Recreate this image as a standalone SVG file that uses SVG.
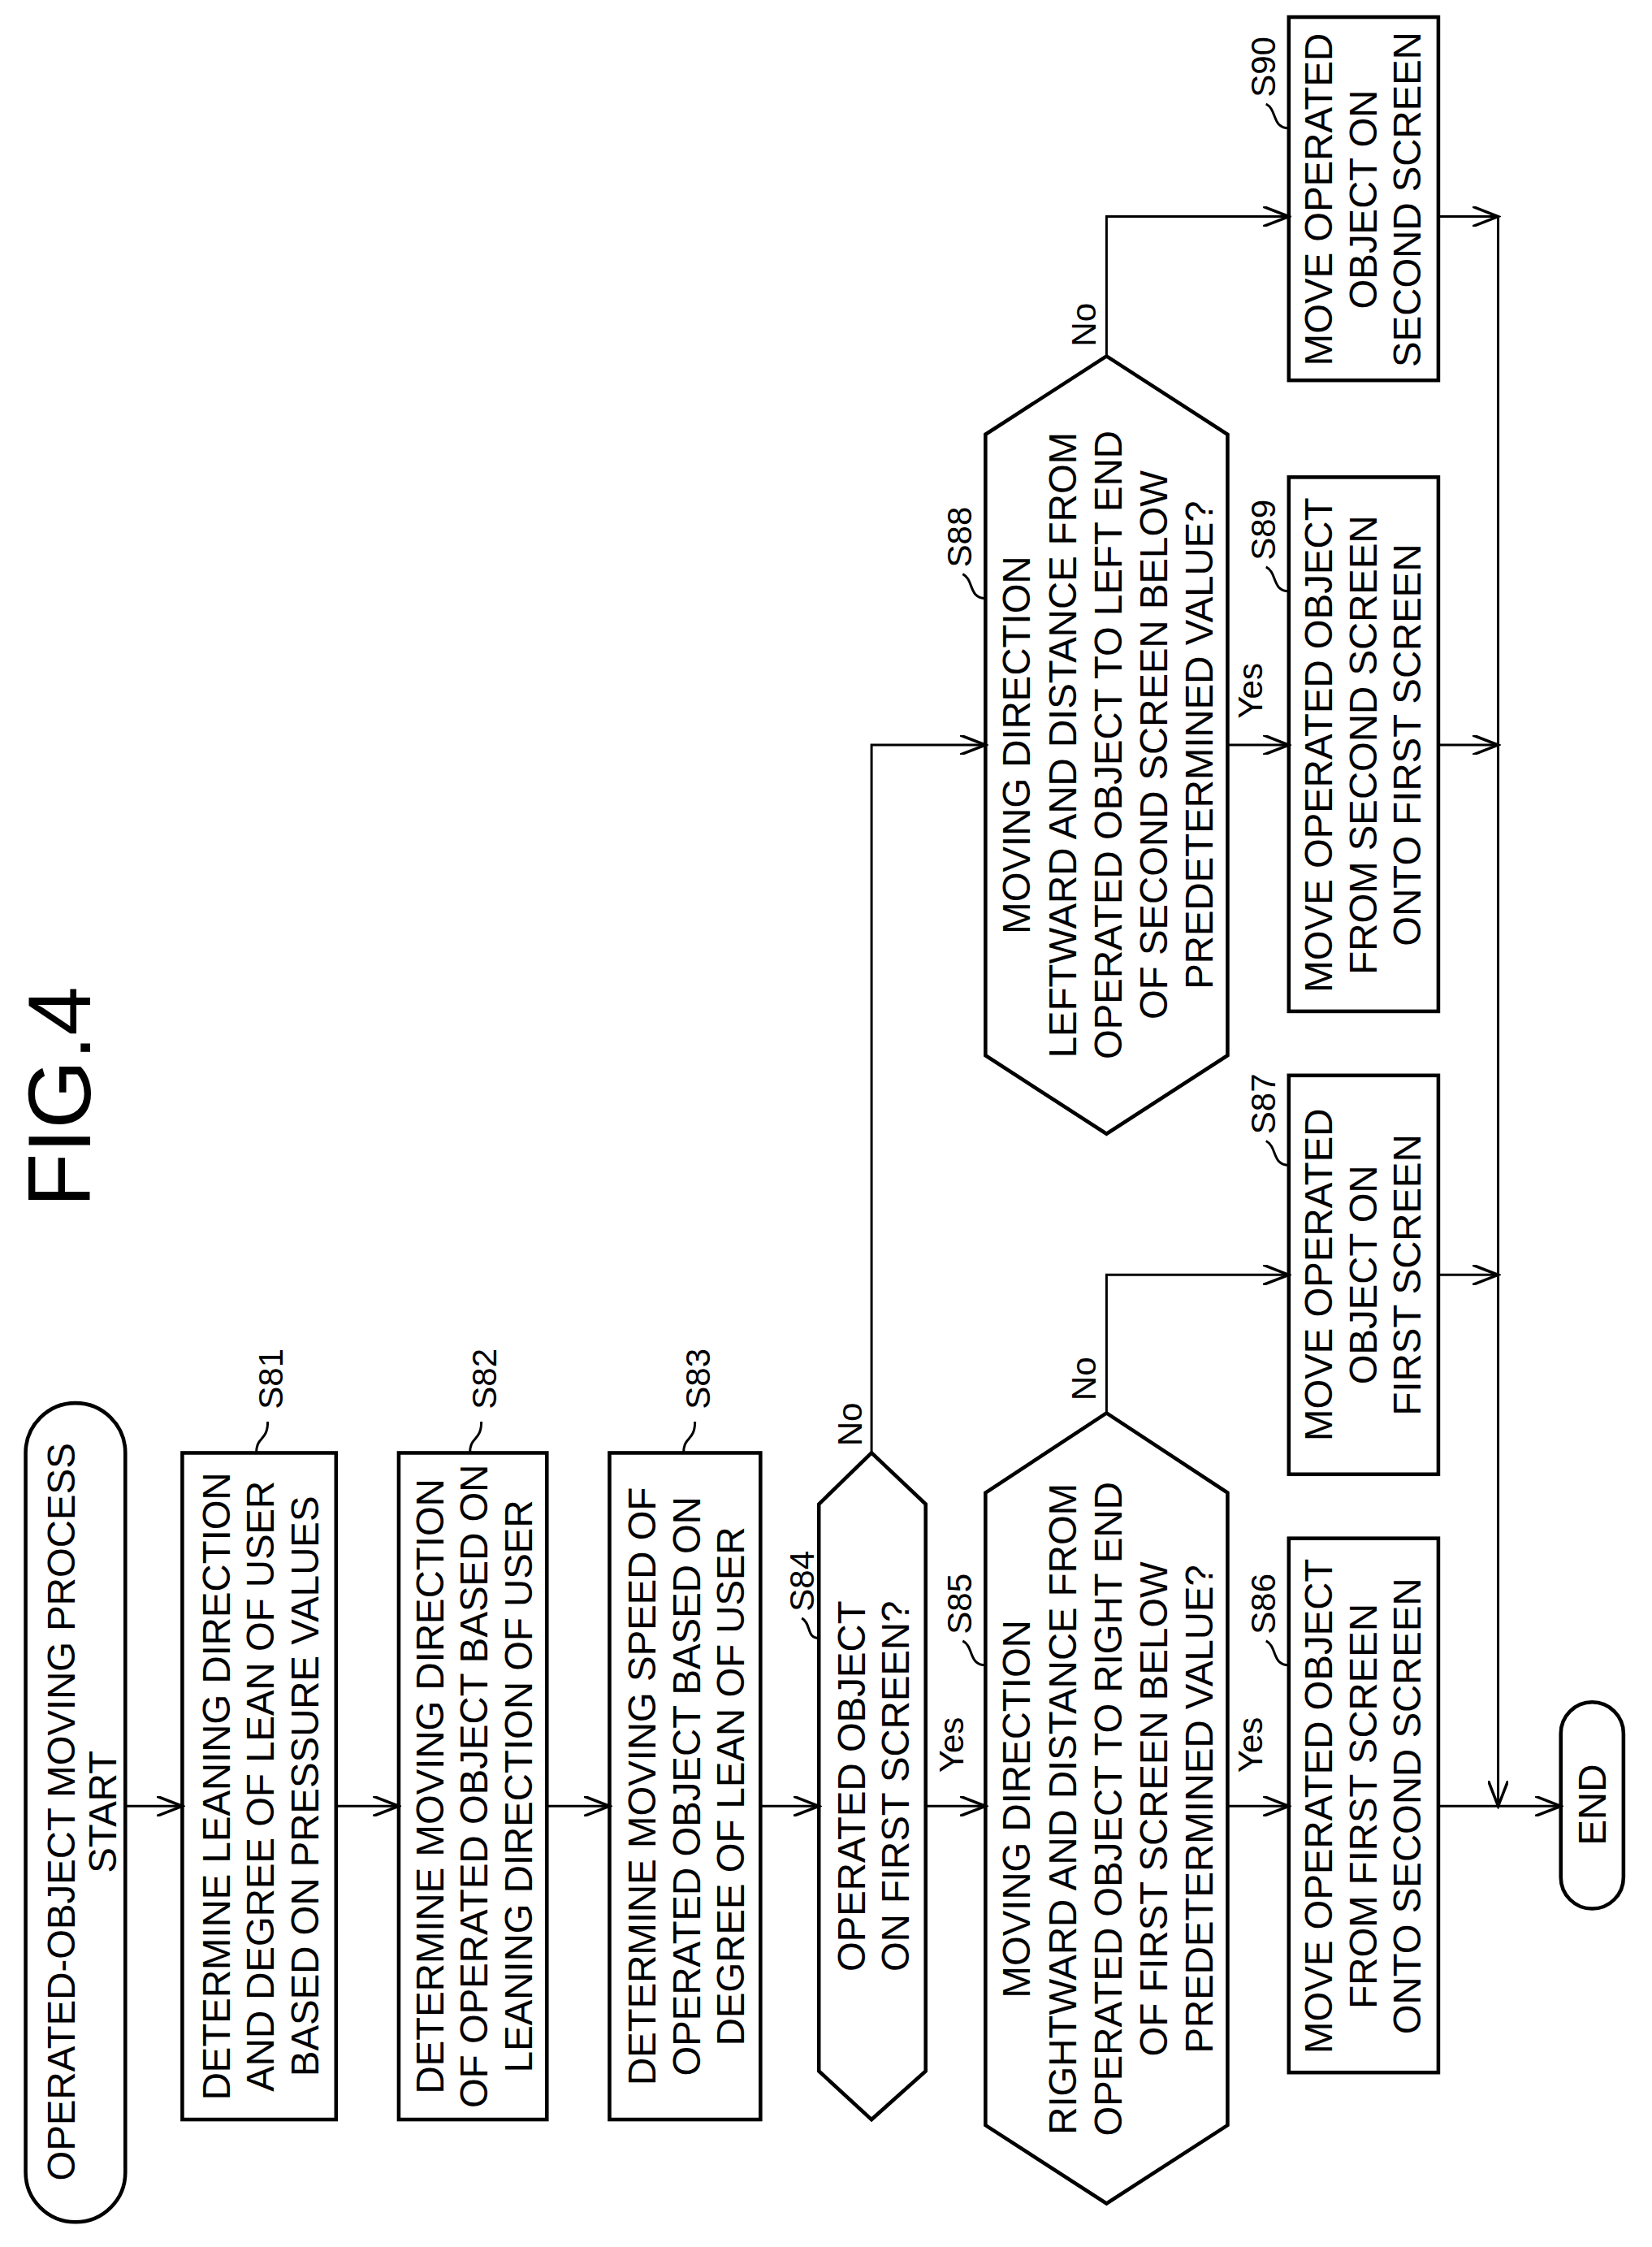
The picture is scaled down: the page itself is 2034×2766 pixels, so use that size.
<svg xmlns="http://www.w3.org/2000/svg" width="2034" height="2766" viewBox="0 0 2034 2766">
<defs>
<marker id="ar" markerWidth="20" markerHeight="14" refX="18" refY="7" orient="auto" markerUnits="userSpaceOnUse"><path d="M0,0 L18,7 L0,14" fill="none" stroke="#000" stroke-width="2"/></marker>
<style>
.s{fill:none;stroke:#000;stroke-width:2.6}
.c{fill:none;stroke:#000;stroke-width:1.7}
text{font-family:"Liberation Sans",Arial,sans-serif;fill:#000;text-anchor:middle;dominant-baseline:central}
.t{font-size:27px}
.l{font-size:24px}
</style>
</defs>
<rect width="2034" height="2766" fill="#fff"/>
<g transform="scale(1.7534)">
<text transform="translate(42,770) rotate(-90)" style="font-size:62px">FIG.4</text>
<g id="conn">
<path class="c" d="M88,1268H128" marker-end="url(#ar)"/>
<path class="c" d="M236,1268H280" marker-end="url(#ar)"/>
<path class="c" d="M384,1268H428" marker-end="url(#ar)"/>
<path class="c" d="M534,1268H575" marker-end="url(#ar)"/>
<path class="c" d="M650,1268H692" marker-end="url(#ar)"/>
<path class="c" d="M612,1020V523H692" marker-end="url(#ar)"/>
<path class="c" d="M862,1268H905" marker-end="url(#ar)"/>
<path class="c" d="M777,992V895H905" marker-end="url(#ar)"/>
<path class="c" d="M862,523H905" marker-end="url(#ar)"/>
<path class="c" d="M777,250V152H905" marker-end="url(#ar)"/>
<path class="c" d="M1010,152H1052" marker-end="url(#ar)"/>
<path class="c" d="M1010,523H1052" marker-end="url(#ar)"/>
<path class="c" d="M1010,895H1052" marker-end="url(#ar)"/>
<path class="c" d="M1052,152V1268" marker-end="url(#ar)"/>
<path class="c" d="M1010,1268H1096" marker-end="url(#ar)"/>
<text class="l" transform="translate(597,1000) rotate(-90)">No</text>
<text class="l" transform="translate(668,1225) rotate(-90)">Yes</text>
<text class="l" transform="translate(761,968) rotate(-90)">No</text>
<text class="l" transform="translate(878,1225) rotate(-90)">Yes</text>
<text class="l" transform="translate(761,228) rotate(-90)">No</text>
<text class="l" transform="translate(878,485) rotate(-90)">Yes</text>
</g>
<g id="start">
<rect class="s" x="18" y="985" width="70" height="575" rx="35"/>
<text class="t" transform="translate(43,1272) rotate(-90)">OPERATED-OBJECT MOVING PROCESS</text>
<text class="t" transform="translate(72,1272) rotate(-90)">START</text>
</g>
<g id="S81">
<rect class="s" x="128" y="1020" width="108" height="468"/>
<text class="t" transform="translate(152,1254) rotate(-90)">DETERMINE LEANING DIRECTION</text>
<text class="t" transform="translate(183,1254) rotate(-90)">AND DEGREE OF LEAN OF USER</text>
<text class="t" transform="translate(214,1254) rotate(-90)">BASED ON PRESSURE VALUES</text>
<path class="c" d="M180,1020C180,1008 188,1012 188,998"/>
<text class="l" transform="translate(190,968) rotate(-90)">S81</text>
</g>
<g id="S82">
<rect class="s" x="280" y="1020" width="104" height="468"/>
<text class="t" transform="translate(302,1254) rotate(-90)">DETERMINE MOVING DIRECTION</text>
<text class="t" transform="translate(333,1254) rotate(-90)">OF OPERATED OBJECT BASED ON</text>
<text class="t" transform="translate(364,1254) rotate(-90)">LEANING DIRECTION OF USER</text>
<path class="c" d="M330,1020C330,1008 338,1012 338,998"/>
<text class="l" transform="translate(340,968) rotate(-90)">S82</text>
</g>
<g id="S83">
<rect class="s" x="428" y="1020" width="106" height="468"/>
<text class="t" transform="translate(451,1254) rotate(-90)">DETERMINE MOVING SPEED OF</text>
<text class="t" transform="translate(482,1254) rotate(-90)">OPERATED OBJECT BASED ON</text>
<text class="t" transform="translate(513,1254) rotate(-90)">DEGREE OF LEAN OF USER</text>
<path class="c" d="M480,1020C480,1008 488,1012 488,998"/>
<text class="l" transform="translate(490,968) rotate(-90)">S83</text>
</g>
<g id="S84">
<path class="s" d="M575,1056L612,1020L650,1056V1454L612,1488L575,1454Z"/>
<text class="t" transform="translate(598,1254) rotate(-90)">OPERATED OBJECT</text>
<text class="t" transform="translate(629,1254) rotate(-90)">ON FIRST SCREEN?</text>
<path class="c" d="M575,1150C566,1150 570,1140 563,1136"/>
<text class="l" transform="translate(563,1110) rotate(-90)">S84</text>
</g>
<g id="S85">
<path class="s" d="M692,1048L777,992L862,1048V1492L777,1547L692,1492Z"/>
<text class="t" transform="translate(714,1270) rotate(-90)">MOVING DIRECTION</text>
<text class="t" transform="translate(746,1270) rotate(-90)">RIGHTWARD AND DISTANCE FROM</text>
<text class="t" transform="translate(778,1270) rotate(-90)">OPERATED OBJECT TO RIGHT END</text>
<text class="t" transform="translate(810,1270) rotate(-90)">OF FIRST SCREEN BELOW</text>
<text class="t" transform="translate(842,1270) rotate(-90)">PREDETERMINED VALUE?</text>
<path class="c" d="M692,1169C680,1169 684,1156 676,1152"/>
<text class="l" transform="translate(674,1126) rotate(-90)">S85</text>
</g>
<g id="S86">
<rect class="s" x="905" y="1080" width="105" height="375"/>
<text class="t" transform="translate(926,1268) rotate(-90)">MOVE OPERATED OBJECT</text>
<text class="t" transform="translate(957,1268) rotate(-90)">FROM FIRST SCREEN</text>
<text class="t" transform="translate(988,1268) rotate(-90)">ONTO SECOND SCREEN</text>
<path class="c" d="M905,1169C893,1169 897,1156 889,1152"/>
<text class="l" transform="translate(887,1126) rotate(-90)">S86</text>
</g>
<g id="S87">
<rect class="s" x="905" y="755" width="105" height="280"/>
<text class="t" transform="translate(926,895) rotate(-90)">MOVE OPERATED</text>
<text class="t" transform="translate(957,895) rotate(-90)">OBJECT ON</text>
<text class="t" transform="translate(988,895) rotate(-90)">FIRST SCREEN</text>
<path class="c" d="M905,818C893,818 897,805 889,801"/>
<text class="l" transform="translate(887,775) rotate(-90)">S87</text>
</g>
<g id="S88">
<path class="s" d="M692,305L777,250L862,305V741L777,796L692,741Z"/>
<text class="t" transform="translate(714,523) rotate(-90)">MOVING DIRECTION</text>
<text class="t" transform="translate(746,523) rotate(-90)">LEFTWARD AND DISTANCE FROM</text>
<text class="t" transform="translate(778,523) rotate(-90)">OPERATED OBJECT TO LEFT END</text>
<text class="t" transform="translate(810,523) rotate(-90)">OF SECOND SCREEN BELOW</text>
<text class="t" transform="translate(842,523) rotate(-90)">PREDETERMINED VALUE?</text>
<path class="c" d="M692,420C680,420 684,407 676,403"/>
<text class="l" transform="translate(674,377) rotate(-90)">S88</text>
</g>
<g id="S89">
<rect class="s" x="905" y="335" width="105" height="375"/>
<text class="t" transform="translate(926,523) rotate(-90)">MOVE OPERATED OBJECT</text>
<text class="t" transform="translate(957,523) rotate(-90)">FROM SECOND SCREEN</text>
<text class="t" transform="translate(988,523) rotate(-90)">ONTO FIRST SCREEN</text>
<path class="c" d="M905,415C893,415 897,402 889,398"/>
<text class="l" transform="translate(887,372) rotate(-90)">S89</text>
</g>
<g id="S90">
<rect class="s" x="905" y="12" width="105" height="255"/>
<text class="t" transform="translate(926,140) rotate(-90)">MOVE OPERATED</text>
<text class="t" transform="translate(957,140) rotate(-90)">OBJECT ON</text>
<text class="t" transform="translate(988,140) rotate(-90)">SECOND SCREEN</text>
<path class="c" d="M905,90C893,90 897,77 889,73"/>
<text class="l" transform="translate(887,47) rotate(-90)">S90</text>
</g>
<g id="end">
<rect class="s" x="1096" y="1195" width="44" height="145" rx="22"/>
<text class="t" transform="translate(1118,1267) rotate(-90)">END</text>
</g>
</g>
</svg>
